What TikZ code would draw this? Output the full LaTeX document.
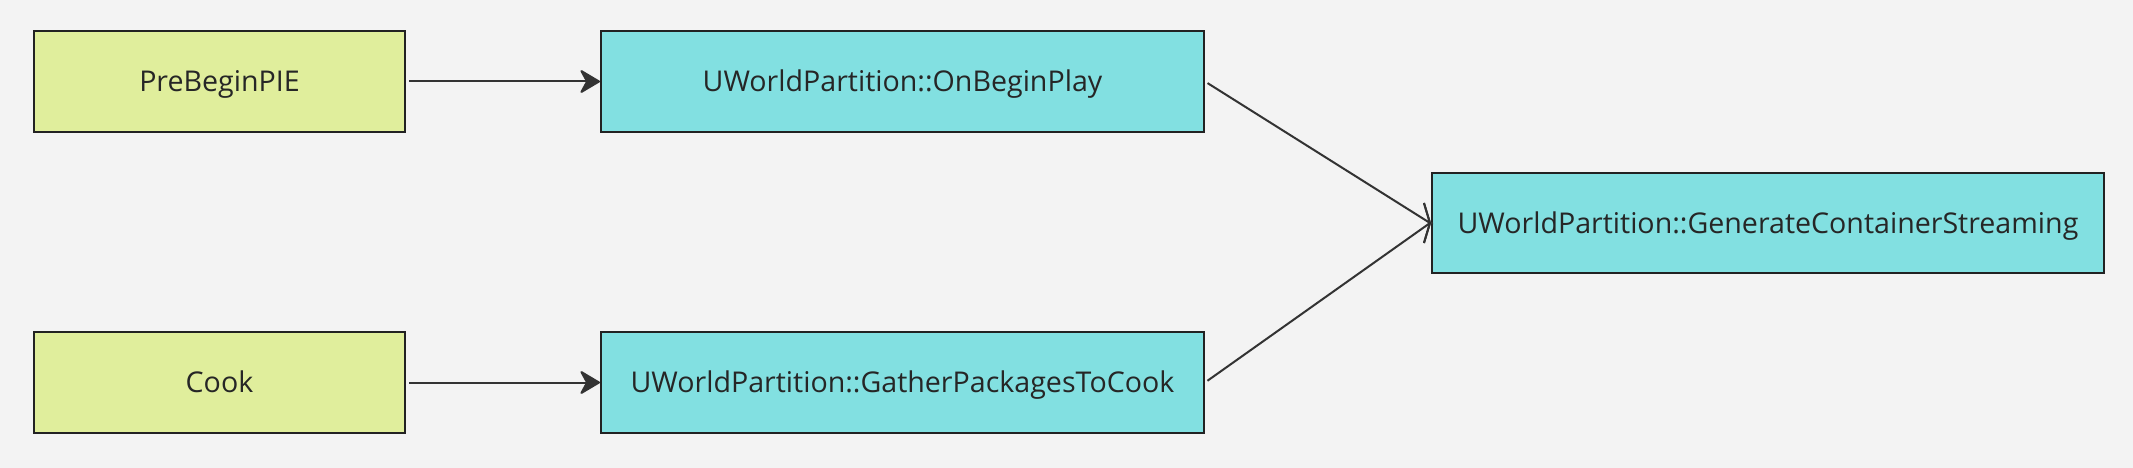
\documentclass[tikz,border=0pt]{standalone}
\usepackage{fontspec}
\setmainfont{Open Sans}
\usetikzlibrary{arrows.meta}
\definecolor{bgc}{HTML}{F3F3F3}
\definecolor{limec}{HTML}{E0EE9C}
\definecolor{cyanc}{HTML}{82E0E1}
\definecolor{linec}{HTML}{333333}
\definecolor{borderc}{HTML}{222222}
\begin{document}
\begin{tikzpicture}[x=1pt,y=-1pt,
  box/.style={draw=borderc,line width=2pt,inner sep=0pt,minimum height=101pt,
    font=\fontsize{28.6}{34}\selectfont,text=black!85,text height=20.4pt,text depth=0pt},
  srcbox/.style={box,fill=limec,minimum width=371pt},
  fnbox/.style={box,fill=cyanc,minimum width=603pt},
  solid arrow/.style={draw=linec,line width=2pt,-{Stealth[length=22pt,width=26pt,inset=7pt,round]},shorten <=3pt},
  open arrow/.style={draw=linec,line width=2pt,-{Straight Barb[length=6pt,width=40pt]},shorten <=3pt}]
\fill[bgc] (0,0) rectangle (2133,468);
\useasboundingbox (0,0) rectangle (2133,468);
\node[srcbox] (pre) at (219.5,81.5) {PreBeginPIE};
\node[fnbox] (onb) at (902.5,81.5) {UWorldPartition::OnBeginPlay};
\node[srcbox] (cook) at (219.5,382.5) {Cook};
\node[fnbox] (gath) at (902.5,382.5) {UWorldPartition::GatherPackagesToCook};
\node[box,fill=cyanc,minimum width=672pt,minimum height=100pt] (gen) at (1768,223) {UWorldPartition::GenerateContainerStreaming};
\draw[solid arrow] (pre.east) -- (onb.west);
\draw[solid arrow] (cook.east) -- (gath.west);
\draw[open arrow] (onb.east) -- ([xshift=-1pt]gen.west) -- (gen.west);
\draw[open arrow] (gath.east) -- ([xshift=-1pt]gen.west) -- (gen.west);
\end{tikzpicture}
\end{document}
